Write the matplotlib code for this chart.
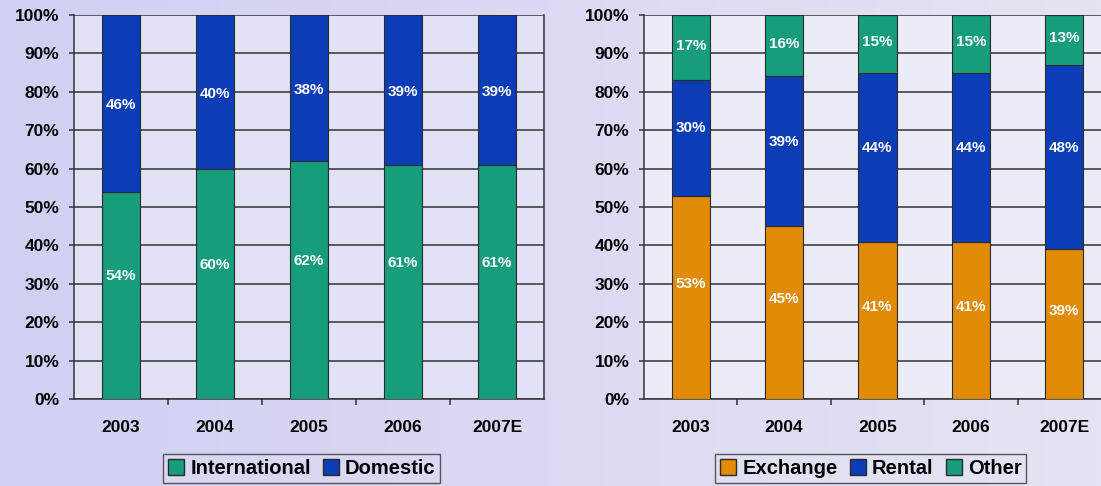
import matplotlib.pyplot as plt
import numpy as np
from matplotlib.patches import Patch
from matplotlib.ticker import PercentFormatter

plt.rcParams['font.family'] = ['Liberation Sans', 'DejaVu Sans']
plt.rcParams['font.weight'] = 'bold'

years = ['2003', '2004', '2005', '2006', '2007E']

# left chart: international vs domestic
international = [54, 60, 62, 61, 61]
domestic = [46, 40, 38, 39, 39]

# right chart: exchange / rental / other
exchange = [53, 45, 41, 41, 39]
rental = [30, 39, 44, 44, 48]
other = [17, 16, 15, 15, 13]

green = '#179c7c'
blue = '#0b3db6'
orange = '#e28b06'
edge = '#2b2b2b'

fig = plt.figure(figsize=(11.01, 4.86), dpi=100)

# lavender backdrop, a bit lighter toward the right
bg = fig.add_axes([0, 0, 1, 1], zorder=-10)
grad = np.linspace(0, 1, 256).reshape(1, -1)
c1 = np.array([0xd0, 0xd0, 0xf3]) / 255
c2 = np.array([0xe4, 0xe4, 0xf4]) / 255
img = c1[None, None, :] * (1 - grad[..., None]) + c2[None, None, :] * grad[..., None]
bg.imshow(img, aspect='auto', extent=[0, 1, 0, 1])
bg.axis('off')


def setup(ax, face):
    ax.set_facecolor(face)
    ax.set_xlim(-0.5, 4.5)
    ax.set_ylim(0, 100)
    ax.set_yticks(range(0, 101, 10))
    ax.yaxis.set_major_formatter(PercentFormatter(decimals=0))
    ax.grid(axis='y', color='#333333', linewidth=1.1)
    ax.set_axisbelow(True)
    ax.set_xticks(range(5))
    ax.set_xticklabels(years)
    ax.set_xticks(np.arange(0.5, 4.5, 1), minor=True)
    ax.tick_params(axis='x', which='major', length=0, pad=15, labelsize=12.5)
    ax.tick_params(axis='x', which='minor', length=4, width=1.1, color='#333333')
    ax.tick_params(axis='y', length=3.6, width=1.1, color='#333333', pad=7, labelsize=12.5)
    ax.spines['top'].set_visible(False)
    for s in ['left', 'bottom', 'right']:
        ax.spines[s].set_color('#333333')
        ax.spines[s].set_linewidth(1.1)


def stack(ax, series, colors, shifts):
    x = np.arange(5)
    bottom = np.zeros(5)
    for vals, col, sh in zip(series, colors, shifts):
        vals = np.array(vals)
        ax.bar(x, vals, 0.41, bottom=bottom, color=col, edgecolor=edge, linewidth=0.8, zorder=3)
        for xi, b, v in zip(x, bottom, vals):
            ax.text(xi, b + v / 2 + sh, f'{v}%', ha='center', va='center',
                    color='white', fontsize=11, fontweight='bold', zorder=4)
        bottom += vals


ax1 = fig.add_axes([0.0672, 0.179, 0.427, 0.79])
setup(ax1, '#e2e2f7')
stack(ax1, [international, domestic], [green, blue], [5, -0.5])

ax2 = fig.add_axes([0.585, 0.179, 0.424, 0.79])
setup(ax2, '#ececf9')
stack(ax2, [exchange, rental, other], [orange, blue, green], [3.5, 2.5, 0.5])

leg_kw = dict(ncol=3, fontsize=14.5, frameon=True, fancybox=False, edgecolor='#333333',
              handlelength=0.8, handleheight=0.8, handletextpad=0.3, columnspacing=0.6,
              borderpad=0.25, loc='center')

l1 = fig.legend([Patch(facecolor=green, edgecolor=edge), Patch(facecolor=blue, edgecolor=edge)],
                ['International', 'Domestic'], bbox_to_anchor=(0.274, 0.036), **leg_kw)
l1.get_frame().set_facecolor('#dadaf4')
l1.get_frame().set_linewidth(1.0)

l2 = fig.legend([Patch(facecolor=orange, edgecolor=edge), Patch(facecolor=blue, edgecolor=edge),
                 Patch(facecolor=green, edgecolor=edge)],
                ['Exchange', 'Rental', 'Other'], bbox_to_anchor=(0.791, 0.036), **leg_kw)
l2.get_frame().set_facecolor('#e2e2f4')
l2.get_frame().set_linewidth(1.0)

fig.savefig('out.png', dpi=100)
